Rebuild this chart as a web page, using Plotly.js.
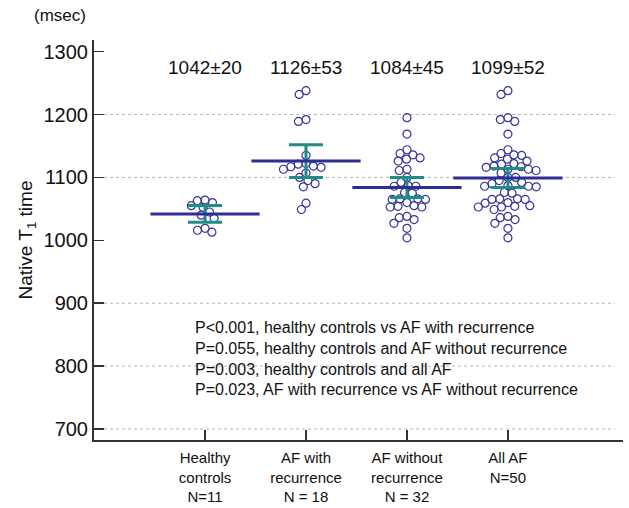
<!DOCTYPE html>
<html>
<head>
<meta charset="utf-8">
<script src="https://cdn.plot.ly/plotly-3.0.1.min.js"></script>
<style>html,body{margin:0;padding:0;background:#fff;}#chart{width:629px;height:508px;}</style>
</head>
<body>
<div id="chart"></div>
<script>
// ---- data ----
const categories = ["Healthy<br>controls<br>N=11", "AF with<br>recurrence<br>N = 18", "AF without<br>recurrence<br>N = 32", "All AF<br>N=50"];
const healthyControls = [1064, 1063, 1060, 1052, 1055, 1045, 1040, 1035, 1019, 1016, 1013];
const afWithRecurrence = [1238, 1232, 1192, 1189, 1135, 1122, 1121, 1118, 1117, 1116, 1113, 1107, 1100, 1095, 1090, 1085, 1059, 1049];
const afWithoutRecurrence = [1195, 1169, 1144, 1138, 1136, 1131, 1129, 1126, 1113, 1111, 1100, 1092, 1087, 1086, 1086, 1076, 1075, 1066, 1066, 1065, 1065, 1060, 1055, 1054, 1053, 1053, 1038, 1036, 1033, 1027, 1019, 1004];
const allAF = afWithRecurrence.concat(afWithoutRecurrence);
const groupMeans = [1042, 1126, 1084, 1099];
const groupSDs = [20, 53, 45, 52];
const ciLower = [1028.6, 1100, 1068, 1084];
const ciUpper = [1055.4, 1152, 1100, 1114];
const yTickVals = [700, 800, 900, 1000, 1100, 1200, 1300];
const gridValues = [700, 800, 900, 1100, 1200];
const pValueLines = [
  "P<0.001, healthy controls vs AF with recurrence",
  "P=0.055, healthy controls and AF without recurrence",
  "P=0.003, healthy controls and all AF",
  "P=0.023, AF with recurrence vs AF without recurrence"
];
const groups = [healthyControls, afWithRecurrence, afWithoutRecurrence, allAF];

// ---- layout constants ----
const W = 629, H = 508;
const M = {l: 94, r: 6, t: 39.5, b: 68};
const xRange = [-1.1, 4.14];
const yRange = [682.5, 1318.5];
const pxPerX = (W - M.l - M.r) / (xRange[1] - xRange[0]);
const pxPerY = (H - M.t - M.b) / (yRange[1] - yRange[0]);
const NAVY = '#34349c', MEANC = '#2d2d92', TEAL = '#1f8c86';

// beeswarm offsets (pixel space), converted to x data units
function swarm(vals, D) {
  const order = vals.map((v, i) => i).sort((a, b) => vals[b] - vals[a]);
  const placed = [];
  const off = new Array(vals.length).fill(0);
  for (const i of order) {
    const y = vals[i] * pxPerY;
    const ivs = [];
    for (const p of placed) {
      const dy = Math.abs(p.y - y);
      if (dy < D) { const h = Math.sqrt(D * D - dy * dy); ivs.push([p.x - h, p.x + h]); }
    }
    const cands = [0];
    ivs.forEach(iv => { cands.push(iv[0], iv[1]); });
    cands.sort((a, b) => Math.abs(a) - Math.abs(b) || a - b);
    let x = 0;
    for (const c of cands) {
      if (ivs.every(iv => c <= iv[0] + 1e-6 || c >= iv[1] - 1e-6)) { x = c; break; }
    }
    placed.push({x, y});
    off[i] = x / pxPerX;
  }
  return off;
}

const traces = [];
groups.forEach((g, gi) => {
  const off = swarm(g, 7.8);
  traces.push({
    type: 'scatter', mode: 'markers',
    x: g.map((v, i) => gi + off[i]), y: g,
    marker: {symbol: 'circle-open', size: 8, color: NAVY, line: {width: 1.2, color: NAVY}},
    hoverinfo: 'y', showlegend: false
  });
});
traces.push({
  type: 'scatter', mode: 'markers',
  x: [0, 1, 2, 3], y: groupMeans,
  marker: {symbol: 'line-ew', size: 78, color: MEANC, line: {width: 3, color: MEANC}},
  error_y: {type: 'data', symmetric: false,
    array: ciUpper.map((u, i) => u - groupMeans[i]),
    arrayminus: groupMeans.map((m, i) => m - ciLower[i]),
    color: TEAL, thickness: 3, width: 17},
  showlegend: false, hoverinfo: 'y'
});

const shapes = gridValues.map(v => ({
  type: 'line', xref: 'paper', yref: 'y', x0: 0.019, x1: 0.985, y0: v, y1: v,
  line: {color: '#b4b4b4', width: 1, dash: 'dot'}, layer: 'below'
}));

const annotations = [];
groupMeans.forEach((m, i) => {
  annotations.push({xref: 'x', yref: 'paper', x: i, y: 0.931, text: m + '±' + groupSDs[i],
    showarrow: false, xanchor: 'center', yanchor: 'middle', font: {size: 19, color: '#111'}});
});
annotations.push({xref: 'paper', yref: 'paper', x: -0.064, y: 1.061, text: '(msec)', showarrow: false,
  xanchor: 'center', yanchor: 'middle', font: {size: 17, color: '#111'}});
annotations.push({xref: 'paper', yref: 'paper', x: (193 - M.l) / (W - M.l - M.r), y: (440 - 358) / (H - M.t - M.b),
  text: pValueLines.join('<br>'), align: 'left', showarrow: false, xanchor: 'left', yanchor: 'middle',
  font: {size: 16, color: '#111'}});

const layout = {
  width: W, height: H, margin: M,
  paper_bgcolor: '#fff', plot_bgcolor: '#fff',
  font: {family: '"Liberation Sans", Arial, sans-serif', color: '#111'},
  showlegend: false,
  xaxis: {range: xRange, showgrid: false, zeroline: false, showline: true, linecolor: '#333', linewidth: 2,
    tickvals: [0, 1, 2, 3], ticktext: categories, ticks: 'inside', ticklen: 10, tickwidth: 1.5, tickcolor: '#333',
    tickfont: {size: 15, color: '#111'}, ticklabelstandoff: 3},
  yaxis: {range: yRange, showgrid: false, zeroline: false, showline: true, linecolor: '#333', linewidth: 2,
    tickvals: yTickVals, ticks: 'inside', ticklen: 10, tickwidth: 1.5, tickcolor: '#333',
    tickfont: {size: 20, color: '#111'},
    title: {text: 'Native T<sub>1</sub> time', font: {size: 19, color: '#111'}, standoff: 6}},
  shapes: shapes, annotations: annotations
};
Plotly.newPlot('chart', traces, layout, {staticPlot: true});
</script>
</body>
</html>
